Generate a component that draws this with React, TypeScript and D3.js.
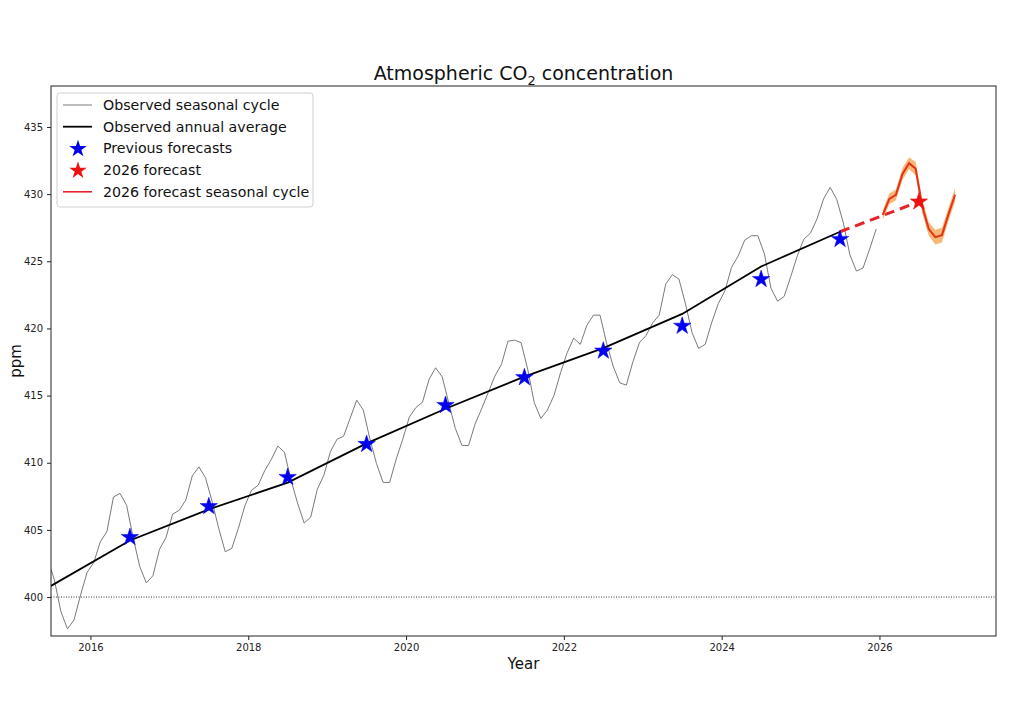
import React, { useEffect, useRef } from 'react';
import * as d3 from 'd3';

// Mauna Loa monthly means, Jan 2015 .. Dec 2025 (ppm)
const observedStartYear = 2015;
const observedMonthly = [
  399.98, 400.28, 401.54, 403.28, 403.96, 402.8, 401.31, 398.93, 397.63, 398.29, 400.16, 401.85,
  402.56, 404.12, 404.87, 407.45, 407.72, 406.83, 404.41, 402.27, 401.05, 401.59, 403.55, 404.45,
  406.17, 406.46, 407.22, 409.04, 409.69, 408.88, 407.12, 405.13, 403.37, 403.63, 405.12, 406.81,
  407.96, 408.32, 409.41, 410.24, 411.24, 410.79, 408.71, 406.99, 405.51, 405.95, 408.02, 409.07,
  410.83, 411.75, 411.97, 413.32, 414.66, 413.92, 411.77, 409.95, 408.54, 408.53, 410.27, 411.76,
  413.4, 414.11, 414.51, 416.21, 417.07, 416.39, 414.44, 412.55, 411.29, 411.28, 412.89, 414.02,
  415.23, 416.45, 417.31, 419.05, 419.13, 418.94, 416.96, 414.47, 413.3, 413.93, 415.01, 416.71,
  418.19, 419.28, 418.81, 420.23, 420.99, 420.99, 418.9, 417.19, 415.95, 415.78, 417.51, 418.95,
  419.47, 420.41, 420.99, 423.31, 424.0, 423.68, 421.83, 419.68, 418.51, 418.82, 420.46, 421.86,
  422.8, 424.55, 425.38, 426.57, 426.9, 426.91, 425.55, 422.99, 422.03, 422.38, 423.85, 425.4,
  426.65, 427.09, 428.15, 429.64, 430.51, 429.61, 427.87, 425.48, 424.27, 424.5, 425.9, 427.4,
];

const annualYears = [2015, 2016, 2017, 2018, 2019, 2020, 2021, 2022, 2023, 2024, 2025];
const annualPpm = [400.83, 404.21, 406.53, 408.52, 411.44, 414.02, 416.41, 418.53, 421.08, 424.61, 427.2];

const forecastYears = [2016, 2017, 2018, 2019, 2020, 2021, 2022, 2023, 2024, 2025];
const forecastPpm = [404.45, 406.75, 408.92, 411.38, 414.28, 416.35, 418.33, 420.18, 423.66, 426.64];

const nextYear = 2026;
const nextForecastPpm = 429.43;

// 2026 forecast seasonal cycle, Jan .. Dec, with uncertainty half-width
const seasonal2026 = [428.45, 429.65, 429.95, 431.5, 432.3, 431.9, 429.1, 427.4, 426.8, 426.95, 428.5, 429.95];
const seasonal2026Unc = [0.35, 0.4, 0.4, 0.45, 0.45, 0.5, 0.5, 0.5, 0.55, 0.55, 0.5, 0.5];

const xTicks = [2016, 2018, 2020, 2022, 2024, 2026];
const yTicks = [400, 405, 410, 415, 420, 425, 430, 435];

const legendLabels = [
  'Observed seasonal cycle',
  'Observed annual average',
  'Previous forecasts',
  '2026 forecast',
  '2026 forecast seasonal cycle',
];

const FONT = 'DejaVu Sans, sans-serif';

const Chart = () => {
  const ref = useRef<HTMLDivElement>(null);

  useEffect(() => {
    const root = d3.select(ref.current);
    root.select('svg').remove();

    const W = 1024,
      H = 720;
    const margin = { top: 86, right: 28, bottom: 84, left: 51 };
    const width = W - margin.left - margin.right,
      height = H - margin.top - margin.bottom;

    const svg = root
      .append('svg')
      .attr('width', W)
      .attr('height', H)
      .style('font-family', FONT);

    svg.append('rect').attr('width', W).attr('height', H).attr('fill', '#fff');

    const x = d3.scaleLinear().domain([2015.5, 2027.477]).range([0, width]);
    const y = d3.scaleLinear().domain([397.1, 438.05]).range([height, 0]);

    const g = svg.append('g').attr('transform', 'translate(' + margin.left + ',' + margin.top + ')');

    g.append('clipPath').attr('id', 'plot-clip').append('rect').attr('width', width).attr('height', height);
    const plot = g.append('g').attr('clip-path', 'url(#plot-clip)');

    // 400 ppm reference
    plot
      .append('line')
      .attr('x1', 0)
      .attr('x2', width)
      .attr('y1', y(400))
      .attr('y2', y(400))
      .attr('stroke', '#222')
      .attr('stroke-width', 0.9)
      .attr('stroke-dasharray', '1,1.5');

    // observed seasonal cycle
    const monthly = observedMonthly.map((v, i) => ({ t: observedStartYear + (i + 0.5) / 12, v }));
    const line = d3
      .line<{ t: number; v: number }>()
      .x((d) => x(d.t))
      .y((d) => y(d.v));
    plot
      .append('path')
      .datum(monthly)
      .attr('d', line)
      .attr('fill', 'none')
      .attr('stroke', '#7a7a7a')
      .attr('stroke-width', 1);

    // observed annual average
    const annual = annualYears.map((yr, i) => ({ t: yr + 0.5, v: annualPpm[i] }));
    plot
      .append('path')
      .datum(annual)
      .attr('d', line)
      .attr('fill', 'none')
      .attr('stroke', '#000')
      .attr('stroke-width', 1.8);

    // dashed link from last annual average to 2026 forecast
    const link = [annual[annual.length - 1], { t: nextYear + 0.5, v: nextForecastPpm }];
    plot
      .append('path')
      .datum(link)
      .attr('d', line)
      .attr('fill', 'none')
      .attr('stroke', '#e8222a')
      .attr('stroke-width', 3)
      .attr('stroke-dasharray', '10,6');

    // 2026 seasonal forecast band + line
    const seasonal = seasonal2026.map((v, i) => ({ t: nextYear + (i + 0.5) / 12, v, u: seasonal2026Unc[i] }));
    const area = d3
      .area<{ t: number; v: number; u: number }>()
      .x((d) => x(d.t))
      .y0((d) => y(d.v - d.u))
      .y1((d) => y(d.v + d.u));
    plot.append('path').datum(seasonal).attr('d', area).attr('fill', '#f7a04a').attr('opacity', 0.75);
    plot
      .append('path')
      .datum(seasonal)
      .attr('d', line)
      .attr('fill', 'none')
      .attr('stroke', '#e2321a')
      .attr('stroke-width', 2);

    // stars
    const star = d3.symbol().type(d3.symbolStar).size(95);
    plot
      .selectAll('.prev')
      .data(forecastYears)
      .enter()
      .append('path')
      .attr('d', star)
      .attr('transform', (d, i) => 'translate(' + x(d + 0.5) + ',' + y(forecastPpm[i]) + ')')
      .attr('fill', '#0000ee')
      .attr('stroke', '#0000ee')
      .attr('stroke-width', 0.5);
    plot
      .append('path')
      .attr('d', star)
      .attr('transform', 'translate(' + x(nextYear + 0.5) + ',' + y(nextForecastPpm) + ')')
      .attr('fill', '#ee1111')
      .attr('stroke', '#ee1111')
      .attr('stroke-width', 0.5);

    // axes
    const xAxis = g
      .append('g')
      .attr('transform', 'translate(0,' + height + ')')
      .call(d3.axisBottom(x).tickValues(xTicks).tickFormat(d3.format('d')).tickSize(4).tickPadding(4));
    const yAxis = g.append('g').call(d3.axisLeft(y).tickValues(yTicks).tickSize(4).tickPadding(4));
    [xAxis, yAxis].forEach((a) => {
      a.select('.domain').remove();
      a.selectAll('text').attr('font-family', FONT).attr('font-size', 10).attr('fill', '#222');
      a.selectAll('line').attr('stroke', '#222');
    });

    // frame
    g.append('rect')
      .attr('width', width)
      .attr('height', height)
      .attr('fill', 'none')
      .attr('stroke', '#222')
      .attr('stroke-width', 1);

    // titles
    const title = svg
      .append('text')
      .attr('x', margin.left + width / 2)
      .attr('y', 80)
      .attr('text-anchor', 'middle')
      .attr('font-size', 19)
      .attr('fill', '#111');
    title.append('tspan').text('Atmospheric CO');
    title.append('tspan').attr('font-size', 13).attr('dy', 5).text('2');
    title.append('tspan').attr('dy', -5).text(' concentration');

    svg
      .append('text')
      .attr('x', margin.left + width / 2)
      .attr('y', 669)
      .attr('text-anchor', 'middle')
      .attr('font-size', 15)
      .attr('fill', '#111')
      .text('Year');
    svg
      .append('text')
      .attr('transform', 'translate(21,' + (margin.top + height / 2) + ') rotate(-90)')
      .attr('text-anchor', 'middle')
      .attr('font-size', 15)
      .attr('fill', '#111')
      .text('ppm');

    // legend
    const lg = svg.append('g').attr('transform', 'translate(57,93)');
    lg.append('rect')
      .attr('width', 256)
      .attr('height', 114)
      .attr('rx', 3)
      .attr('fill', '#fff')
      .attr('fill-opacity', 0.85)
      .attr('stroke', '#d0d0d0');
    const rowY = (i: number) => 12 + i * 21.7;
    const handles = [
      { kind: 'line', color: '#7a7a7a', w: 1 },
      { kind: 'line', color: '#000', w: 1.8 },
      { kind: 'star', color: '#0000ee', w: 0 },
      { kind: 'star', color: '#ee1111', w: 0 },
      { kind: 'line', color: '#e8222a', w: 1.6 },
    ];
    legendLabels.forEach((label, i) => {
      const h = handles[i];
      if (h.kind === 'line') {
        lg.append('line')
          .attr('x1', 6)
          .attr('x2', 35)
          .attr('y1', rowY(i))
          .attr('y2', rowY(i))
          .attr('stroke', h.color)
          .attr('stroke-width', h.w);
      } else {
        lg.append('path')
          .attr('d', star)
          .attr('transform', 'translate(21,' + (rowY(i) + 0.5) + ')')
          .attr('fill', h.color);
      }
      lg.append('text')
        .attr('x', 46)
        .attr('y', rowY(i))
        .attr('dy', '0.35em')
        .attr('font-size', 14.2)
        .attr('fill', '#111')
        .text(label);
    });
  }, []);

  return <div ref={ref} style={{ position: 'absolute', left: 0, top: 0 }}></div>;
};

export default function App() {
  return <Chart />;
}
